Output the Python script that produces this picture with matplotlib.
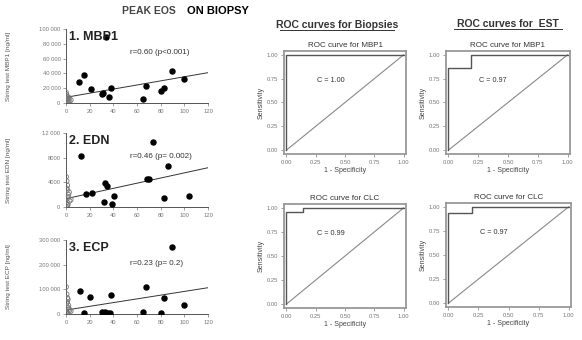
import numpy as np
import matplotlib.pyplot as plt
from matplotlib.lines import Line2D

plt.rcParams['font.family'] = ['Liberation Sans', 'DejaVu Sans']

W, H = 582, 340

# ---- scatter data: peak eos on biopsy vs string test level ----
mbp_x = [33.8, 15.2, 11.3, 20.9, 30.4, 31.5, 38.3, 36.6, 67.4, 65.4, 80.6, 83.1, 89.9, 99.7]
mbp_y = [89000, 37800, 28800, 18500, 11800, 14000, 20700, 7700, 23000, 5400, 16600, 20700, 43600, 32000]
mbp_cx = [0, 0.5, 1, 1, 2, 2, 3, 0, 1, 4, 0.5, 2.5]
mbp_cy = [14000, 11000, 8000, 5000, 3000, 6000, 2000, 1000, 500, 4000, 9000, 7000]
mbp_line = [7700, 41000]

edn_x = [12.7, 73.3, 86.5, 68.2, 70.2, 33.2, 34.9, 16.6, 22.0, 32.1, 38.6, 40.6, 83.1, 103.7]
edn_y = [8320, 10490, 6650, 4540, 4540, 3940, 3400, 2100, 2220, 860, 440, 1830, 1510, 1780]
edn_cx = [0, 0.5, 1, 1, 2, 2, 3, 0, 1, 4, 0.5, 2.5, 0, 1.5]
edn_cy = [4900, 4200, 3500, 2800, 2000, 1500, 1000, 600, 300, 1200, 3000, 2400, 100, 400]
edn_line = [1350, 6370]

ecp_x = [89.9, 67.4, 11.8, 20.3, 38.3, 83.1, 99.7, 15.5, 30.2, 33.0, 35.8, 37.2, 65.4, 80.3]
ecp_y = [272800, 108200, 94600, 67700, 77000, 66100, 36500, 5000, 9500, 9500, 5000, 4000, 7000, 4000]
ecp_cx = [0, 0.5, 1, 1, 2, 2, 3, 0, 1, 4, 0.5, 2.5, 0, 1.5]
ecp_cy = [110000, 80000, 65000, 50000, 35000, 25000, 15000, 8000, 3000, 12000, 45000, 20000, 1000, 60000]
ecp_line = [16000, 106600]

x_ticks = [0, 20, 40, 60, 80, 100, 120]

panels = [
    ("1. MBP1", mbp_x, mbp_y, mbp_cx, mbp_cy, mbp_line, "r=0.60 (p<0.001)",
     [0, 20000, 40000, 60000, 80000, 100000],
     ["0", "20 000", "40 000", "60 000", "80 000", "100 000"],
     "String test MBP1 [ng/ml]", (29, 103)),
    ("2. EDN", edn_x, edn_y, edn_cx, edn_cy, edn_line, "r=0.46 (p= 0.002)",
     [0, 4000, 8000, 12000], ["0", "4000", "8000", "12 000"],
     "String test EDN [ng/ml]", (133, 207)),
    ("3. ECP", ecp_x, ecp_y, ecp_cx, ecp_cy, ecp_line, "r=0.23 (p= 0.2)",
     [0, 100000, 200000, 300000], ["0", "100 000", "200 000", "300 000"],
     "String test ECP [ng/ml]", (240, 314)),
]

# ---- ROC data ----
roc_panels = [
    ("ROC curve for MBP1", [0, 0, 1], [0, 1, 1], "C = 1.00", (284, 51, 406, 154)),
    ("ROC curve for MBP1", [0, 0, 0.19, 0.19, 1], [0, 0.86, 0.86, 1, 1], "C = 0.97", (446, 51, 570, 154)),
    ("ROC curve for CLC", [0, 0, 0.14, 0.14, 1], [0, 0.96, 0.96, 1, 1], "C = 0.99", (284, 204, 406, 308)),
    ("ROC curve for CLC", [0, 0, 0.2, 0.2, 1], [0, 0.94, 0.94, 1, 1], "C = 0.97", (446, 203, 571, 307)),
]
roc_ticks = [0, 0.25, 0.5, 0.75, 1.0]
roc_labels = ["0.00", "0.25", "0.50", "0.75", "1.00"]


def px_axes(fig, l, t, r, b):
    return fig.add_axes([l / W, 1 - b / H, (r - l) / W, (b - t) / H])


fig = plt.figure(figsize=(W / 100, H / 100), dpi=100)

fig.text(122 / W, 1 - 11 / H, "PEAK EOS", fontsize=7.5, fontweight='bold', color='#444',
         ha='left', va='center')
fig.text(187 / W, 1 - 11 / H, "ON BIOPSY", fontsize=8, fontweight='bold', color='black',
         ha='left', va='center')

for (name, xs, ys, cx, cy, line, rtxt, yt, ytl, ylab, (top, bot)) in panels:
    ax = px_axes(fig, 66, top, 208, bot)
    ax.scatter(cx, cy, s=12, facecolors='none', edgecolors='#777', linewidths=0.6, zorder=3)
    ax.scatter(xs, ys, s=13, color='black', zorder=3)
    ax.plot([0, 120], line, color='#333', lw=0.7)
    ax.set_xlim(0, 120)
    ax.set_ylim(0, yt[-1])
    ax.set_xticks(x_ticks)
    ax.set_xticklabels([str(v) for v in x_ticks])
    ax.set_yticks(yt)
    ax.set_yticklabels(ytl)
    ax.tick_params(labelsize=4.2, colors='#777', length=2, width=0.5, pad=2)
    for s in ['top', 'right']:
        ax.spines[s].set_visible(False)
    for s in ['left', 'bottom']:
        ax.spines[s].set_color('#555')
        ax.spines[s].set_linewidth(0.7)
    ax.text(0.02, 0.97, name, transform=ax.transAxes, fontsize=9, fontweight='bold',
            color='#222', ha='left', va='top')
    ax.text(0.45, 0.68, rtxt, transform=ax.transAxes, fontsize=5.8, color='#333',
            ha='left', va='center')
    fig.text(9 / W, 1 - (top + bot) / 2 / H, ylab, rotation=90, fontsize=4.6, color='#555',
             ha='center', va='center')

# group titles with underline
for txt, cx_px, cy_px, half in [("ROC curves for Biopsies", 337, 25, 57),
                                ("ROC curves for  EST", 508, 24, 54)]:
    fig.text(cx_px / W, 1 - cy_px / H, txt, fontsize=7.5, fontweight='bold', color='#333',
             ha='center', va='center')
    fig.add_artist(Line2D([(cx_px - half) / W, (cx_px + half) / W],
                          [1 - (cy_px + 5) / H, 1 - (cy_px + 5) / H],
                          color='#333', lw=0.7))

for (title, fpr, tpr, ctxt, (l, t, r, b)) in roc_panels:
    ax = px_axes(fig, l, t, r, b)
    ax.plot([0, 1], [0, 1], color='#888', lw=0.8)
    ax.plot(fpr, tpr, color='#555', lw=1.0)
    ax.set_xlim(-0.02, 1.02)
    ax.set_ylim(-0.04, 1.04)
    ax.set_xticks(roc_ticks)
    ax.set_xticklabels(roc_labels)
    ax.set_yticks(roc_ticks)
    ax.set_yticklabels(roc_labels)
    ax.tick_params(labelsize=4.2, colors='#777', length=2, width=0.5, pad=2)
    for s in ax.spines.values():
        s.set_color('#999')
        s.set_linewidth(1.3)
    ax.set_title(title, fontsize=5.8, color='#333', pad=3)
    ax.set_xlabel("1 - Specificity", fontsize=5, color='#444', labelpad=2)
    ax.set_ylabel("Sensitivity", fontsize=5, color='#444', labelpad=2)
    ax.text(0.26, 0.73, ctxt, fontsize=5.2, color='#333', ha='left', va='center')

fig.savefig("out.png", dpi=100)
